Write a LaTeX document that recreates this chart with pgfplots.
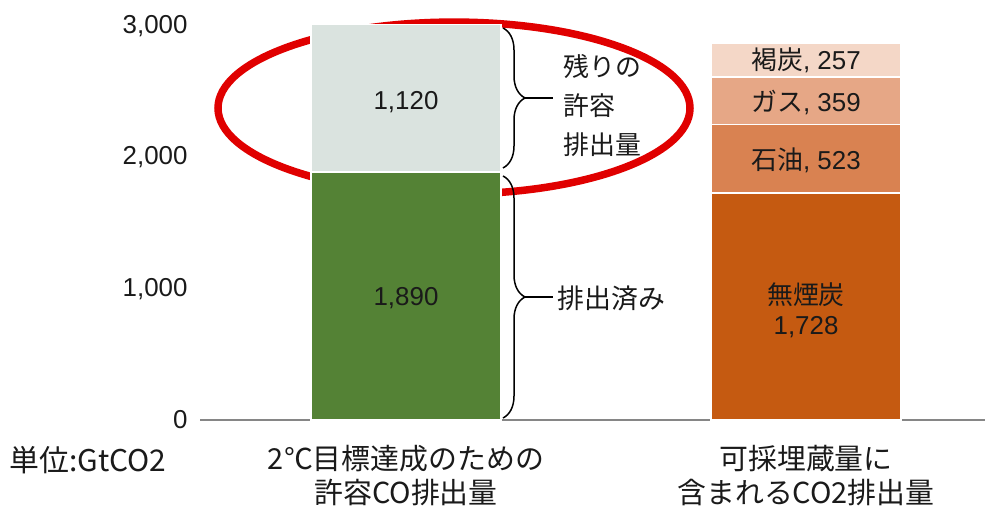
\documentclass[border=0pt]{standalone}
\usepackage{fontspec}
\usepackage{pgfplots}
\pgfplotsset{compat=1.18}
\usetikzlibrary{decorations.pathreplacing}
\setmainfont{Liberation Sans}
\newfontfamily\jp{Noto Sans CJK JP}
\definecolor{cgreen}{HTML}{548235}
\definecolor{cgrey}{HTML}{DAE3DF}
\definecolor{canth}{HTML}{C55A11}
\definecolor{coil}{HTML}{D98251}
\definecolor{cgas}{HTML}{E6A786}
\definecolor{clig}{HTML}{F4D7C7}
\definecolor{axgray}{HTML}{868686}
\definecolor{txt}{HTML}{1A1A1A}
\definecolor{ered}{HTML}{E00000}
\tikzset{barlbl/.style={text=txt, font=\fontsize{26}{30}\selectfont, anchor=center},
  jpt/.style={text=txt, font=\jp\fontsize{26}{39}\selectfont, anchor=west}}
\begin{document}
\begin{tikzpicture}
\path[use as bounding box] (0,0) rectangle (985bp,509bp);
\begin{axis}[
  at={(200bp,89bp)}, anchor=south west,
  scale only axis, width=785bp, height=394bp,
  xmin=-0.515, xmax=1.4475, ymin=0, ymax=3000,
  clip=false,
  ybar stacked, bar width=190bp,
  axis lines*=left,
  y axis line style={draw=none},
  x axis line style={draw=axgray, line width=1.5bp, -},
  major tick length=0,
  xtick={0,1},
  xticklabels={{2℃目標達成のための\\許容CO排出量},{可採埋蔵量に\\含まれるCO2排出量}},
  xticklabel style={align=center, font=\jp\fontsize{29}{34}\selectfont, text=txt, yshift=-22bp},
  ytick={0,1000,2000,3000},
  yticklabel style={font=\fontsize{26}{28}\selectfont, text=txt, xshift=-9bp},
  /pgf/number format/assume math mode=true,
  /pgf/number format/1000 sep={,},
]
\addplot[fill=cgreen, draw=white, line width=1.5bp] coordinates {(0,1890) (1,0)};
\addplot[fill=cgrey, draw=white, line width=1.5bp] coordinates {(0,1120) (1,0)};
\addplot[fill=canth, draw=white, line width=1.5bp] coordinates {(0,0) (1,1728)};
\addplot[fill=coil, draw=white, line width=1.5bp] coordinates {(0,0) (1,523)};
\addplot[fill=cgas, draw=white, line width=1.5bp] coordinates {(0,0) (1,359)};
\addplot[fill=clig, draw=white, line width=1.5bp] coordinates {(0,0) (1,257)};

\coordinate (L1) at (axis cs:0,2421);
\coordinate (L2) at (axis cs:0,929);
\coordinate (R1) at (axis cs:1,834);
\coordinate (R2) at (axis cs:1,1980);
\coordinate (R3) at (axis cs:1,2414);
\coordinate (R4) at (axis cs:1,2741);

\draw[line width=1.5bp, decorate, decoration={brace, amplitude=22bp}]
  (axis cs:0.2425,2985) -- (axis cs:0.2425,1919);
\draw[line width=1.5bp] (axis cs:0.2975,2452) -- (axis cs:0.3675,2452);
\draw[line width=1.5bp, decorate, decoration={brace, amplitude=22bp}]
  (axis cs:0.2425,1858) -- (axis cs:0.2425,15);
\draw[line width=1.5bp] (axis cs:0.2975,936) -- (axis cs:0.3675,936);

\node[jpt, align=left] at (axis cs:0.385,2395) {残りの\\許容\\排出量};
\node[jpt, font=\jp\fontsize{27}{30}\selectfont] at (axis cs:0.37,929) {排出済み};

\node[anchor=west, text=txt, font=\jp\fontsize{30}{32}\selectfont] at (axis cs:-1.0,-305) {単位:GtCO2};

\draw[ered, line width=7.5bp] (axis cs:0.12,2375) ellipse [x radius=236bp, y radius=86bp];
\end{axis}
\node[barlbl] at (L1) {1,120};
\node[barlbl] at (L2) {1,890};
\node[barlbl, align=center] at (R1) {{\jp 無煙炭}\\1,728};
\node[barlbl] at (R2) {{\jp 石油}, 523};
\node[barlbl] at (R3) {{\jp ガス}, 359};
\node[barlbl] at (R4) {{\jp 褐炭}, 257};
\end{tikzpicture}
\end{document}
